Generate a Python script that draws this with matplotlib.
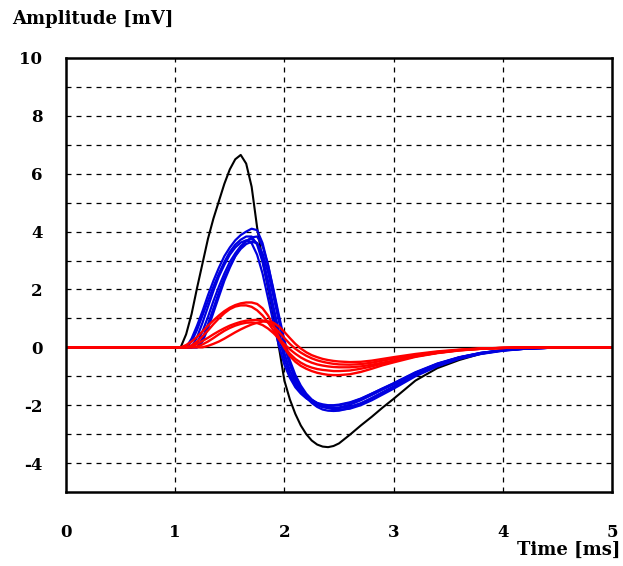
import numpy as np
import matplotlib
matplotlib.use("Agg")
import matplotlib.pyplot as plt

# Time grid [ms]
t = [0, 1.0, 1.05, 1.1, 1.15, 1.2, 1.25, 1.3, 1.35, 1.4, 1.45, 1.5, 1.55, 1.6, 1.65,
     1.7, 1.75, 1.8, 1.85, 1.9, 1.95, 2.0, 2.05, 2.1, 2.15, 2.2, 2.25, 2.3, 2.35, 2.4,
     2.45, 2.5, 2.6, 2.7, 2.8, 2.9, 3.0, 3.2, 3.4, 3.6, 3.8, 4.0, 4.2, 4.4, 4.6, 5.0]

black = [0, 0, 0.0, 0.45, 1.15, 2.05, 2.9, 3.75, 4.45, 5.05, 5.65, 6.15, 6.5, 6.65, 6.35,
         5.55, 4.15, 3.0, 2.05, 1.1, 0.0, -1.15, -1.8, -2.3, -2.7, -3.0, -3.22, -3.36, -3.43, -3.45,
         -3.41, -3.32, -3.02, -2.7, -2.4, -2.08, -1.78, -1.15, -0.72, -0.44, -0.22, -0.1, -0.04, -0.01, 0, 0]

blue_1 = [0, 0, 0, 0.0, 0.3, 0.75, 1.25, 1.8, 2.3, 2.75, 3.15, 3.45, 3.7, 3.88, 4.0,
          4.1, 4.05, 3.6, 2.85, 1.95, 1.0, 0.1, -0.6, -1.1, -1.45, -1.72, -1.92, -2.06, -2.15, -2.19,
          -2.2, -2.19, -2.1, -1.95, -1.75, -1.55, -1.35, -0.92, -0.6, -0.36, -0.2, -0.1, -0.05, -0.02, 0, 0]
blue_2 = [0, 0, 0, 0.0, 0.2, 0.6, 1.1, 1.6, 2.1, 2.55, 2.95, 3.3, 3.55, 3.72, 3.83,
          3.83, 3.55, 2.95, 2.1, 1.2, 0.35, -0.4, -0.95, -1.3, -1.55, -1.75, -1.9, -2.0, -2.07, -2.1,
          -2.1, -2.08, -1.98, -1.83, -1.65, -1.46, -1.28, -0.88, -0.57, -0.35, -0.19, -0.1, -0.05, -0.02, 0, 0]
blue_3 = [0, 0, 0, 0, 0.0, 0.35, 0.85, 1.4, 1.95, 2.45, 2.85, 3.2, 3.45, 3.62, 3.7,
          3.6, 3.2, 2.55, 1.7, 0.85, 0.05, -0.6, -1.05, -1.38, -1.6, -1.76, -1.87, -1.95, -2.0, -2.02,
          -2.02, -2.0, -1.92, -1.78, -1.6, -1.42, -1.24, -0.86, -0.56, -0.34, -0.19, -0.1, -0.04, -0.02, 0, 0]
blue_4 = [0, 0, 0, 0, 0.0, 0.15, 0.55, 1.05, 1.6, 2.1, 2.55, 2.95, 3.25, 3.5, 3.67,
          3.75, 3.6, 3.1, 2.3, 1.4, 0.55, -0.2, -0.8, -1.2, -1.5, -1.7, -1.83, -1.92, -1.97, -2.0,
          -2.0, -1.98, -1.9, -1.77, -1.6, -1.42, -1.25, -0.88, -0.58, -0.35, -0.2, -0.1, -0.04, -0.02, 0, 0]
blue_5 = [0, 0, 0, 0, 0, 0.0, 0.3, 0.8, 1.35, 1.9, 2.4, 2.8, 3.15, 3.4, 3.57,
          3.65, 3.6, 3.25, 2.6, 1.75, 0.9, 0.1, -0.55, -1.05, -1.4, -1.65, -1.82, -1.94, -2.02, -2.07,
          -2.09, -2.1, -2.05, -1.93, -1.76, -1.57, -1.38, -0.97, -0.64, -0.39, -0.22, -0.11, -0.05, -0.02, 0, 0]
blue_6 = [0, 0, 0, 0, 0, 0.0, 0.2, 0.65, 1.2, 1.75, 2.3, 2.75, 3.15, 3.45, 3.67,
          3.8, 3.83, 3.5, 2.85, 2.0, 1.1, 0.25, -0.45, -0.95, -1.32, -1.6, -1.8, -1.93, -2.03, -2.1,
          -2.14, -2.16, -2.12, -2.0, -1.83, -1.63, -1.43, -1.0, -0.66, -0.4, -0.23, -0.12, -0.05, -0.02, 0, 0]

red_1 = [0, 0, 0.0, 0.08, 0.2, 0.36, 0.55, 0.75, 0.93, 1.1, 1.25, 1.37, 1.46, 1.52, 1.55,
         1.55, 1.5, 1.35, 1.1, 0.75, 0.35, -0.02, -0.3, -0.5, -0.64, -0.74, -0.82, -0.88, -0.92, -0.95,
         -0.96, -0.96, -0.93, -0.85, -0.74, -0.62, -0.52, -0.33, -0.2, -0.11, -0.05, -0.02, 0, 0, 0, 0]
red_2 = [0, 0, 0, 0.0, 0.07, 0.2, 0.38, 0.58, 0.8, 1.0, 1.18, 1.32, 1.41, 1.45, 1.45,
         1.4, 1.28, 1.1, 0.86, 0.58, 0.28, 0.0, -0.22, -0.4, -0.53, -0.63, -0.7, -0.75, -0.78, -0.8,
         -0.82, -0.82, -0.8, -0.74, -0.66, -0.56, -0.47, -0.31, -0.19, -0.1, -0.05, -0.02, 0, 0, 0, 0]
red_3 = [0, 0, 0, 0.0, 0.04, 0.12, 0.22, 0.33, 0.45, 0.56, 0.66, 0.75, 0.82, 0.88, 0.92,
         0.94, 0.95, 0.93, 0.86, 0.72, 0.53, 0.32, 0.12, -0.05, -0.18, -0.29, -0.38, -0.45, -0.5, -0.54,
         -0.57, -0.59, -0.6, -0.58, -0.53, -0.46, -0.39, -0.26, -0.16, -0.09, -0.04, -0.02, 0, 0, 0, 0]
red_4 = [0, 0, 0, 0, 0, 0.0, 0.0, 0.05, 0.12, 0.2, 0.3, 0.41, 0.52, 0.62, 0.71,
         0.79, 0.85, 0.89, 0.9, 0.85, 0.72, 0.53, 0.32, 0.12, -0.04, -0.17, -0.27, -0.34, -0.4, -0.44,
         -0.47, -0.49, -0.51, -0.5, -0.46, -0.4, -0.34, -0.23, -0.14, -0.08, -0.04, -0.02, 0, 0, 0, 0]
red_5 = [0, 0, 0, 0, 0.0, 0.03, 0.1, 0.2, 0.32, 0.45, 0.57, 0.67, 0.75, 0.81, 0.85,
         0.86, 0.84, 0.77, 0.65, 0.49, 0.3, 0.11, -0.07, -0.22, -0.35, -0.45, -0.53, -0.59, -0.63, -0.66,
         -0.68, -0.69, -0.69, -0.66, -0.6, -0.53, -0.46, -0.31, -0.19, -0.1, -0.05, -0.02, 0, 0, 0, 0]

x_ticks = [0, 1, 2, 3, 4, 5]
y_ticks = [-4, -2, 0, 2, 4, 6, 8, 10]
y_label = "Amplitude [mV]"
x_label = "Time [ms]"

FONT = "DejaVu Serif"
FS_TICK = 12
FS_LABEL = 13

fig = plt.figure(figsize=(6.23, 5.66), dpi=100)
ax = fig.add_axes([66 / 623, 1 - 492 / 566, (612 - 66) / 623, (492 - 58) / 566])
ax.set_xlim(0, 5)
ax.set_ylim(-5, 10)

# grid
for gx in [1, 2, 3, 4]:
    ax.axvline(gx, color="black", lw=0.9, ls=(0, (4, 4)), zorder=1)
for gy in range(-4, 10):
    if gy == 0:
        continue
    ax.axhline(gy, color="black", lw=0.9, ls=(0, (4, 4)), zorder=1)
ax.axhline(0, color="black", lw=0.9, zorder=1.5)

ax.plot(t, black, color="black", lw=1.5, zorder=2)
for b in [blue_1, blue_2, blue_3, blue_4, blue_5, blue_6]:
    ax.plot(t, b, color="#0000e0", lw=1.6, zorder=3)
for r in [red_1, red_2, red_3, red_4, red_5]:
    ax.plot(t, r, color="#ff0000", lw=1.7, zorder=4)

ax.set_xticks(x_ticks)
ax.set_yticks(y_ticks)
ax.set_xticklabels([str(v) for v in x_ticks], fontfamily=FONT, fontweight="bold", fontsize=FS_TICK)
ax.set_yticklabels([str(v) for v in y_ticks], fontfamily=FONT, fontweight="bold", fontsize=FS_TICK)
ax.tick_params(axis="both", length=0)
ax.tick_params(axis="x", pad=23)
ax.tick_params(axis="y", pad=17)
for s in ax.spines.values():
    s.set_linewidth(1.8)
    s.set_zorder(5)

fig.text(12 / 623, 1 - 19 / 566, y_label, fontfamily=FONT, fontweight="bold", fontsize=FS_LABEL,
         ha="left", va="center")
fig.text(620 / 623, 1 - 550 / 566, x_label, fontfamily=FONT, fontweight="bold", fontsize=FS_LABEL,
         ha="right", va="center")

fig.savefig("out.png", dpi=100)
